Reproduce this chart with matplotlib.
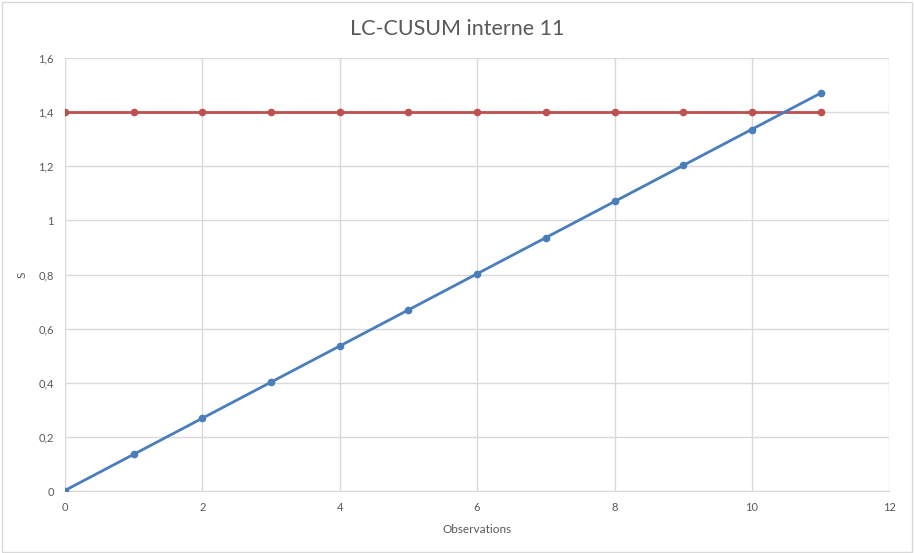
import numpy as np
import matplotlib
matplotlib.use("Agg")
import matplotlib.pyplot as plt
from matplotlib.ticker import FuncFormatter, MultipleLocator

# LC-CUSUM statistic per observation and the decision limit
obs = [0, 1, 2, 3, 4, 5, 6, 7, 8, 9, 10, 11]
s_vals = [0.0, 0.137, 0.270, 0.403, 0.536, 0.669, 0.802, 0.935, 1.072, 1.205, 1.334, 1.471]
limit = [1.4] * len(obs)

plt.rcParams["font.family"] = ["Lato", "DejaVu Sans"]

BLUE = "#4a7ebb"
RED = "#c0504d"
GRID = "#d9d9d9"
TXT = "#595959"

fig = plt.figure(figsize=(9.14, 5.53), dpi=100)
ax = fig.add_axes([0.071, 0.112, 0.902, 0.783])

ax.plot(obs, limit, color=RED, lw=2.0, marker="o", ms=4.5, zorder=3)

# linear trendline through the S values, plus the points themselves
coef = np.polyfit(obs, s_vals, 1)
xs = np.array([obs[0], obs[-1]])
ax.plot(xs, np.polyval(coef, xs), color=BLUE, lw=2.0, zorder=4)
ax.plot(obs, s_vals, ls="none", color=BLUE, marker="o", ms=4.5, zorder=5)

ax.set_xlim(0, 12)
ax.set_ylim(0, 1.6)
ax.xaxis.set_major_locator(MultipleLocator(2))
ax.yaxis.set_major_locator(MultipleLocator(0.2))
fmt = FuncFormatter(lambda v, p: f"{v:g}".replace(".", ","))
ax.xaxis.set_major_formatter(fmt)
ax.yaxis.set_major_formatter(fmt)

ax.grid(True, color=GRID, lw=1.0)
ax.set_axisbelow(True)
for sp in ax.spines.values():
    sp.set_visible(False)
ax.spines["bottom"].set_visible(True)
ax.spines["bottom"].set_color(GRID)
ax.tick_params(length=0, colors=TXT, labelsize=8, pad=8)

ax.set_xlabel("Observations", color=TXT, fontsize=8.5, labelpad=8)
ax.set_ylabel("S", color=TXT, fontsize=8.5, labelpad=8)
fig.suptitle("LC-CUSUM interne 11", x=0.5, y=0.965, fontsize=15.5, color=TXT)

# thin outer frame like the exported chart area
fig.patches.append(plt.Rectangle((0.002, 0.002), 0.996, 0.994, transform=fig.transFigure,
                                 fill=False, ec=GRID, lw=1.0))

fig.savefig("out.png", dpi=100)
